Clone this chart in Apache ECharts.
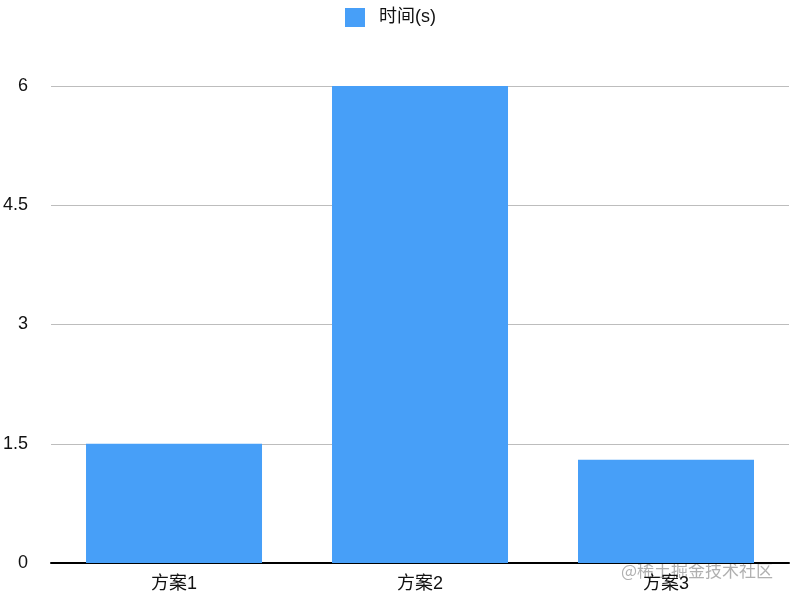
<!DOCTYPE html>
<html>
<head>
<meta charset="utf-8">
<script src="https://cdn.jsdelivr.net/npm/echarts@6/dist/echarts.min.js"></script>
<style>html,body{margin:0;padding:0;background:#fff;}#c{width:790px;height:600px;}</style>
</head>
<body>
<div id="c"></div>
<script>
var categories = ['方案1', '方案2', '方案3'];
var seriesName = '时间(s)';
var values = [1.5, 6, 1.3];
var yTicks = [0, 1.5, 3, 4.5, 6];
var watermark = '@稀土掘金技术社区';

var font = '"Liberation Sans", "Noto Sans CJK SC", sans-serif';
var chart = echarts.init(document.getElementById('c'));
chart.setOption({
  animation: false,
  legend: {
    top: 3, left: 340,
    itemWidth: 20, itemHeight: 19, itemGap: 13,
    icon: 'rect',
    textStyle: { fontSize: 18, color: '#111', fontFamily: font, padding: [0, 0, 0, 9] },
    data: [seriesName]
  },
  grid: { left: 51, right: 1, top: 86, bottom: 37, containLabel: false },
  xAxis: {
    type: 'category', data: categories,
    axisLine: { lineStyle: { color: '#000', width: 2 } },
    axisTick: { show: false },
    axisLabel: { fontSize: 18, color: '#111', margin: 12, fontFamily: font }
  },
  yAxis: {
    type: 'value', min: yTicks[0], max: yTicks[yTicks.length - 1], interval: 1.5,
    axisLine: { show: false }, axisTick: { show: false },
    axisLabel: { fontSize: 18, color: '#111', margin: 23, fontFamily: font },
    splitLine: { lineStyle: { color: '#bdbdbd', width: 1 } }
  },
  series: [{
    name: seriesName, type: 'bar', data: values,
    barWidth: 176,
    itemStyle: { color: '#479ff8' }
  }],
  graphic: [{
    type: 'text', right: 17, top: 562,
    style: { text: watermark, fill: 'rgba(150,150,150,0.75)', font: '17px "Noto Sans CJK SC", sans-serif' }
  }]
});
</script>
</body>
</html>
